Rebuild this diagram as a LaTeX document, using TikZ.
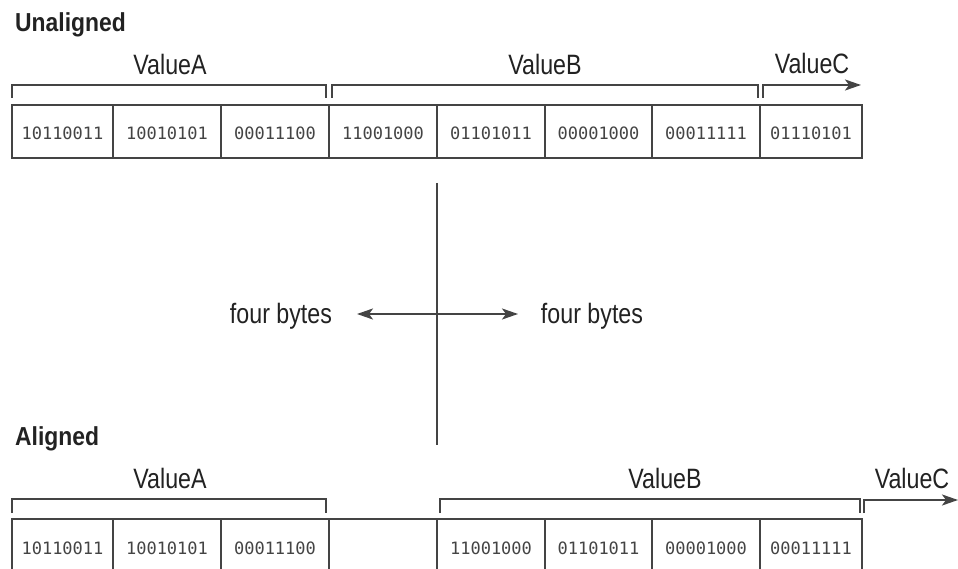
\documentclass[tikz,border=0pt]{standalone}
\usepackage{fontspec}
\usetikzlibrary{arrows.meta}
\newfontfamily\labfont{Liberation Sans}[FakeStretch=0.83]
\newfontfamily\hdrfont{Liberation Sans}[FakeStretch=0.88]
\newfontfamily\bitfont{DejaVu Sans Mono}
\definecolor{ink}{HTML}{444444}
\definecolor{txt}{HTML}{222222}
\tikzset{
  lbl/.style={font=\labfont\fontsize{28}{30}\selectfont, text=txt, inner sep=0pt, anchor=base},
  hdr/.style={font=\hdrfont\bfseries\fontsize{26}{28}\selectfont, text=txt, inner sep=0pt, anchor=base west},
  cell/.style={draw=ink, line width=1.6pt, minimum height=#1, inner sep=0pt,
    font=\bitfont\fontsize{17}{19}\selectfont, text=ink, text height=17pt, text depth=0pt},
  brk/.style={draw=ink, line width=2pt},
  arr/.style={draw=ink, line width=2pt, -{Stealth[length=16pt,width=11pt,inset=4pt]}},
}
\begin{document}
\begin{tikzpicture}[x=1pt,y=-1pt]
\clip (0,0) rectangle (958,569);
\fill[white] (0,0) rectangle (958,569);

% headings
\node[hdr] (hU) at (15,32) {Unaligned};
\node[hdr] (hA) at (15,445) {Aligned};

% top row
\foreach \a/\b/\t [count=\i] in {12/113/10110011,113/221/10010101,221/329/00011100,329/437/11001000,437/545/01101011,545/652/00001000,652/760/00011111,760/862/01110101}{
  \pgfmathsetmacro\cx{(\a+\b)/2}
  \pgfmathsetmacro\w{\b-\a}
  \node[cell=53pt, minimum width=\w pt] (u\i) at (\cx,131.5) {\t};
}

% bottom row
\foreach \a/\b/\t [count=\i] in {12/113/10110011,113/221/10010101,221/329/00011100,329/437/{},437/545/11001000,545/652/01101011,652/760/00001000,760/862/00011111}{
  \pgfmathsetmacro\cx{(\a+\b)/2}
  \pgfmathsetmacro\w{\b-\a}
  \node[cell=54pt, minimum width=\w pt] (a\i) at (\cx,546) {\t};
}

% top brackets
\draw[brk] (12,98) |- (326,85) -- (326,98);
\draw[brk] (332,98) |- (758,85) -- (758,98);
\coordinate (ucS) at (763,98);
\coordinate (ucE) at (861,85);
\draw[arr] (ucS) |- (ucE);
\node[lbl] (uvA) at (170,75) {ValueA};
\node[lbl] (uvB) at (545,75) {ValueB};
\node[lbl] (uvC) at (812,74) {ValueC};

% bottom brackets
\draw[brk] (12,513) |- (326,499) -- (326,513);
\draw[brk] (440,513) |- (860,499) -- (860,513);
\coordinate (acS) at (864,513);
\coordinate (acE) at (958,500);
\draw[arr] (acS) |- (acE);
\node[lbl] (avA) at (170,488) {ValueA};
\node[lbl] (avB) at (665,488) {ValueB};
\node[lbl] (avC) at (912,488) {ValueC};

% centre cross
\coordinate (vt) at (437,183);
\coordinate (vb) at (437,445);
\coordinate (c) at (437,314);
\draw[brk] (vt) -- (vb);
\node[lbl] (fbL) at (281,323) {four bytes};
\node[lbl] (fbR) at (592,323) {four bytes};
\coordinate (tipL) at (357,314);
\coordinate (tipR) at (518,314);
\draw[arr] (c) -- (tipL);
\draw[arr] (c) -- (tipR);
\end{tikzpicture}
\end{document}
